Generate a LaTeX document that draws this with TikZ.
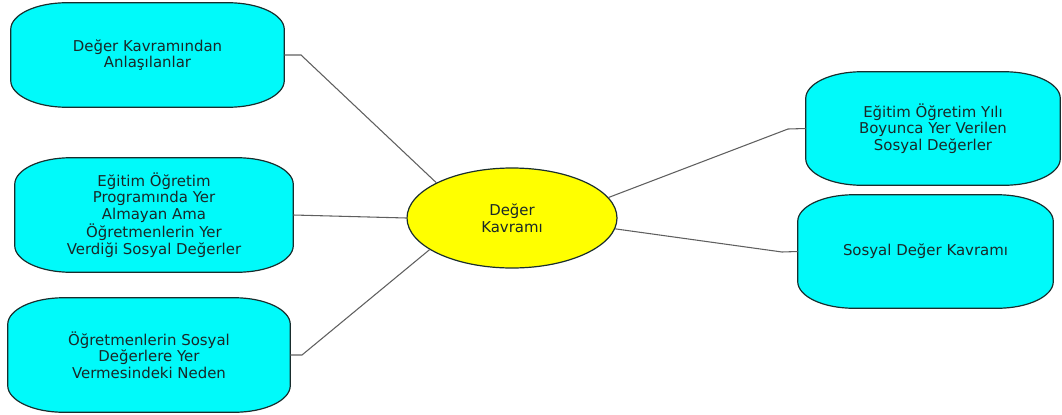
\documentclass[tikz,border=0pt]{standalone}
\usepackage{fontspec}
\setmainfont{DejaVu Sans}
\usetikzlibrary{shapes.geometric}
\definecolor{cyanc}{RGB}{0,250,250}
\definecolor{yellowc}{RGB}{255,255,0}
\definecolor{borderc}{RGB}{25,45,45}
\definecolor{linec}{RGB}{95,95,95}
\definecolor{textc}{RGB}{25,40,40}
\pgfdeclarelayer{background}
\pgfsetlayers{background,main}
\def\myrx{42pt}
\def\myry{20pt}
\newcommand\softbox[1]{%
  \begin{pgfonlayer}{background}
  \filldraw[boxfill] ([yshift=-\myry]#1.north west)
    arc[start angle=180,end angle=90,x radius=\myrx,y radius=\myry]
    -- ([xshift=-\myrx]#1.north east)
    arc[start angle=90,end angle=0,x radius=\myrx,y radius=\myry]
    -- ([yshift=\myry]#1.south east)
    arc[start angle=0,end angle=-90,x radius=\myrx,y radius=\myry]
    -- ([xshift=\myrx]#1.south west)
    arc[start angle=270,end angle=180,x radius=\myrx,y radius=\myry]
    -- cycle;
  \end{pgfonlayer}}
\tikzset{
  boxtext/.style={rectangle, align=center, inner sep=0pt, text=textc,
    font=\fontsize{11.2}{12.4}\selectfont},
  boxfill/.style={fill=cyanc, draw=borderc, line width=0.9pt},
  hub/.style={ellipse, fill=yellowc, draw=borderc, line width=0.9pt,
    inner sep=0pt, minimum width=157.5pt, minimum height=75pt, align=center,
    text=textc, font=\fontsize{11.2}{12.4}\selectfont},
  conn/.style={draw=linec, line width=0.8pt},
}
\begin{document}
\begin{tikzpicture}[x=0.75pt,y=-0.75pt]
\useasboundingbox (0,0) rectangle (1062,414);
\node[boxtext, minimum width=204.75pt, minimum height=78pt] (b1) at (147.5,55)
  {Değer Kavramından\\Anlaşılanlar};
\softbox{b1}
\node[boxtext, minimum width=208.5pt, minimum height=85.5pt] (b2) at (154,215)
  {Eğitim Öğretim\\Programında Yer\\Almayan Ama\\Öğretmenlerin Yer\\Verdiği Sosyal Değerler};
\softbox{b2}
\node[boxtext, minimum width=211.5pt, minimum height=85.5pt] (b3) at (149,355)
  {Öğretmenlerin Sosyal\\Değerlere Yer\\Vermesindeki Neden};
\softbox{b3}
\node[boxtext, minimum width=190.5pt, minimum height=84.75pt] (r1) at (933,128.5)
  {Eğitim Öğretim Yılı\\Boyunca Yer Verilen\\Sosyal Değerler};
\softbox{r1}
\node[boxtext, minimum width=191.25pt, minimum height=84.75pt] (r2) at (925.5,251.5)
  {Sosyal Değer Kavramı};
\softbox{r2}
\node[hub] (e) at (512,218) {Değer\\Kavramı};
\coordinate (k1) at (301,55);
\coordinate (k3) at (302,355);
\coordinate (k4) at (788,129);
\coordinate (k5) at (782,252);
\draw[conn] (b1.east) -- (k1) -- (e.155.8);
\draw[conn] (b2.east) -- (e.west);
\draw[conn] (b3.east) -- (k3) -- (e.201.8);
\draw[conn] (e.12.1) -- (k4) -- (r1.west);
\draw[conn] (e.354.5) -- (k5) -- (r2.west);
\end{tikzpicture}
\end{document}
